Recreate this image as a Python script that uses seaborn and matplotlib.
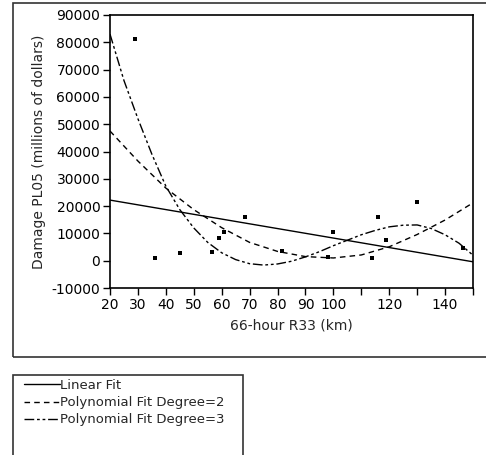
"""Damage vs 66-hour R33 with linear, quadratic and cubic fits."""

import matplotlib

matplotlib.use("Agg")

import matplotlib.pyplot as plt
import pandas as pd
import seaborn as sns
from matplotlib.lines import Line2D
from matplotlib.patches import Rectangle

r33_km = [29, 36, 45, 56.5, 59, 61, 68.5, 81.5, 98, 100, 114, 116, 119, 130, 146.5]
damage = [81300, 1000, 2700, 3300, 8200, 10600, 16100, 3700, 1500, 10400,
          900, 15900, 7600, 21500, 4800]

# fitted curves
linear_x = [20, 150]
linear_y = [22200, -400]
quad_x = [20, 30, 40, 50, 60, 70, 80, 90, 100, 110, 120, 130, 140, 150]
quad_y = [47500, 36500, 26600, 18700, 12100, 6700, 3400, 1500, 1000, 2100,
          5100, 9600, 14900, 21200]
cubic_x = [20, 25, 30, 35, 40, 45, 50, 55, 60, 65, 70, 75, 80, 85, 90, 95,
           100, 105, 110, 115, 120, 125, 130, 135, 140, 145, 150]
cubic_y = [83000, 66000, 52000, 39000, 27300, 18700, 12000, 6700, 2900, 400,
           -1100, -1600, -1200, -200, 1400, 3300, 5500, 7500, 9500, 11100,
           12400, 13000, 13100, 11800, 9500, 6400, 2000]

x_ticks = list(range(20, 151, 10))
x_labels = [str(t) if t not in (110, 130, 150) else "" for t in x_ticks]
y_ticks = list(range(-10000, 90001, 10000))

fit_names = ["Linear Fit", "Polynomial Fit Degree=2", "Polynomial Fit Degree=3"]
fit_styles = ["-", (0, (4, 3)), (0, (7, 2, 2, 2, 2, 2))]

points = pd.DataFrame({"r33": r33_km, "damage": damage})
fits = [
    pd.DataFrame({"r33": linear_x, "damage": linear_y}),
    pd.DataFrame({"r33": quad_x, "damage": quad_y}),
    pd.DataFrame({"r33": cubic_x, "damage": cubic_y}),
]

sns.set_theme(style="white")
plt.rcParams["font.family"] = ["DejaVu Sans"]
plt.rcParams["axes.unicode_minus"] = False

W, H = 486, 455
fig = plt.figure(figsize=(W / 100, H / 100), dpi=100)
ax = fig.add_axes([110 / W, 1 - 288 / H, 363 / W, 273 / H])

for fit, style in zip(fits, fit_styles):
    sns.lineplot(data=fit, x="r33", y="damage", color="black", linewidth=1.0,
                 linestyle=style, ax=ax)

sns.scatterplot(data=points, x="r33", y="damage", marker="s", s=7,
                color="black", linewidth=0, ax=ax, zorder=5)

ax.set_xlim(20, 150)
ax.set_ylim(-10000, 90000)
ax.set_xticks(x_ticks)
ax.set_xticklabels(x_labels)
ax.set_yticks(y_ticks)
ax.set_yticklabels([str(t) for t in y_ticks])
ax.tick_params(direction="out", length=5, width=1, colors="black",
               labelsize=10, pad=2, bottom=True, left=True)
ax.set_xlabel("66-hour R33 (km)", fontsize=10, labelpad=5)
ax.set_ylabel("Damage PL05 (millions of dollars)", fontsize=10, labelpad=4)
for sp in ax.spines.values():
    sp.set_color("black")
    sp.set_linewidth(1.2)

# outer frame around plot, and legend box below it
fig.patches.append(Rectangle((13 / W, 1 - 357 / H), 480 / W, 354 / H,
                             transform=fig.transFigure, fill=False,
                             edgecolor="#333333", linewidth=1.2))
fig.patches.append(Rectangle((13 / W, 1 - 470 / H), 230 / W, 95 / H,
                             transform=fig.transFigure, fill=False,
                             edgecolor="#333333", linewidth=1.2))

handles = [Line2D([], [], color="black", linewidth=1.0, linestyle=s)
           for s in fit_styles]
fig.legend(handles, fit_names, loc="upper left",
           bbox_to_anchor=(24 / W, 1 - 379 / H), frameon=False,
           fontsize=9.5, handlelength=2.7, handletextpad=0.05,
           labelspacing=0.32, borderpad=0, borderaxespad=0)

fig.savefig("out.png", dpi=100)
plt.close(fig)
